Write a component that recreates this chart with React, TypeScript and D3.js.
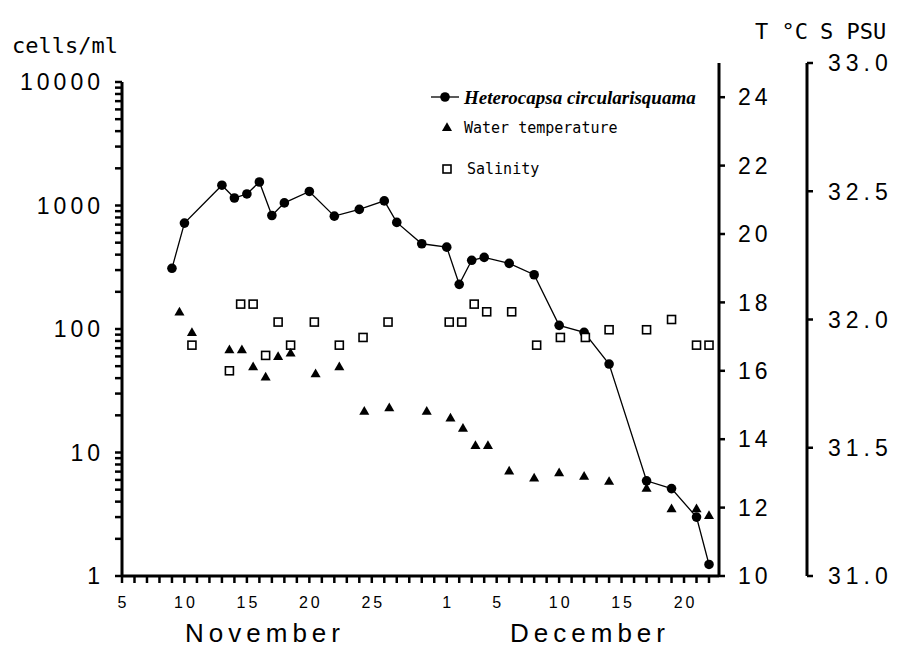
import React from 'react';
import * as d3 from 'd3';

// day numbers counted from 1 November (1 December = 31)
const cellDays = [9, 10, 13, 14, 15, 16, 17, 18, 20, 22, 24, 26, 27, 29, 31, 32, 33, 34, 36, 38, 40, 42, 44, 47, 49, 51, 52];
const cellValues = [310, 720, 1460, 1150, 1240, 1550, 830, 1050, 1300, 820, 930, 1090, 730, 490, 460, 230, 360, 380, 340, 275, 107, 94, 52, 5.9, 5.1, 3.0, 1.24];

const tempDays = [9.6, 10.6, 13.6, 14.6, 15.5, 16.5, 17.5, 18.5, 20.5, 22.4, 24.4, 26.4, 29.4, 31.3, 32.3, 33.3, 34.3, 36, 38, 40, 42, 44, 47, 49, 51, 52];
const tempValues = [17.7, 17.1, 16.6, 16.6, 16.1, 15.8, 16.4, 16.5, 15.9, 16.1, 14.8, 14.9, 14.8, 14.6, 14.3, 13.8, 13.8, 13.05, 12.85, 13.0, 12.9, 12.75, 12.55, 11.95, 11.95, 11.75];

const salDays = [10.6, 13.6, 14.5, 15.5, 16.5, 17.5, 18.5, 20.4, 22.4, 24.3, 26.3, 31.2, 32.2, 33.2, 34.2, 36.2, 38.2, 40.1, 42.1, 44, 47, 49, 51, 52];
const salValues = [31.9, 31.8, 32.06, 32.06, 31.86, 31.99, 31.9, 31.99, 31.9, 31.93, 31.99, 31.99, 31.99, 32.06, 32.03, 32.03, 31.9, 31.93, 31.93, 31.96, 31.96, 32.0, 31.9, 31.9];

const dayTicks = d3.range(5, 53);
const dayLabels: [number, string][] = [[5, '5'], [10, '10'], [15, '15'], [20, '20'], [25, '25'], [31, '1'], [35, '5'], [40, '10'], [45, '15'], [50, '20']];
const cellLabels = [1, 10, 100, 1000, 10000];
const tempTicks = [10, 12, 14, 16, 18, 20, 22, 24];
const salTicks = [31, 31.5, 32, 32.5, 33];

const sans = '"Liberation Sans", Arial, sans-serif';
const mono = '"DejaVu Sans Mono", monospace';

export default function App() {
  const left = 122, right = 719, bottom = 576;
  const x = d3.scaleLinear().domain([5, 52.8]).range([left, right]);
  const yCells = d3.scaleLog().domain([1, 10000]).range([bottom, 82]);
  const yTemp = d3.scaleLinear().domain([10, 25]).range([bottom, 63]);
  const ySal = d3.scaleLinear().domain([31, 33]).range([bottom, 63]);
  const salX = 807;

  const cells = cellDays.map((d, i) => ({ day: d, v: cellValues[i] }));
  const temps = tempDays.map((d, i) => ({ day: d, v: tempValues[i] }));
  const sals = salDays.map((d, i) => ({ day: d, v: salValues[i] }));

  const line = d3.line<{ day: number; v: number }>()
    .x(d => x(d.day))
    .y(d => yCells(d.v));
  const tri = d3.symbol(d3.symbolTriangle, 44)();

  return (
    <svg width={904} height={654} style={{ position: 'absolute', left: 0, top: 0, background: '#fff' }}>
      {/* titles */}
      <text x={12} y={53} fontFamily={mono} fontSize={22}>cells/ml</text>
      <text x={755} y={39} fontFamily={mono} fontSize={22}>T °C</text>
      <text x={820} y={39} fontFamily={mono} fontSize={22}>S PSU</text>

      {/* left log axis */}
      <line x1={left} x2={left} y1={82} y2={bottom} stroke="#000" strokeWidth={3} />
      {yCells.ticks().map(t => (
        <line key={t} x1={left - 7} x2={left} y1={yCells(t)} y2={yCells(t)} stroke="#000" strokeWidth={2.5} />
      ))}
      {cellLabels.map(t => (
        <text key={t} x={104} y={yCells(t)} dy="0.36em" textAnchor="end" fontFamily={sans} fontSize={23} style={{ letterSpacing: 4 }}>{t}</text>
      ))}

      {/* x axis */}
      <line x1={left} x2={right} y1={bottom} y2={bottom} stroke="#000" strokeWidth={3} />
      {dayTicks.map(d => (
        <line key={d} x1={x(d)} x2={x(d)} y1={bottom} y2={bottom + 7} stroke="#000" strokeWidth={2.5} />
      ))}
      {dayLabels.map(([d, s]) => (
        <text key={d} x={x(d) + 1.5} y={602} dy="0.36em" textAnchor="middle" fontFamily={sans} fontSize={16} style={{ letterSpacing: 3 }}>{s}</text>
      ))}
      <text x={265} y={642} textAnchor="middle" fontFamily={sans} fontSize={26} style={{ letterSpacing: 5 }}>November</text>
      <text x={590} y={642} textAnchor="middle" fontFamily={sans} fontSize={26} style={{ letterSpacing: 5 }}>December</text>

      {/* temperature axis */}
      <line x1={right} x2={right} y1={63} y2={bottom} stroke="#000" strokeWidth={3} />
      {tempTicks.map(t => (
        <g key={t}>
          <line x1={right} x2={right + 6} y1={yTemp(t)} y2={yTemp(t)} stroke="#000" strokeWidth={2.5} />
          <text x={738} y={yTemp(t)} dy="0.36em" fontFamily={sans} fontSize={23} style={{ letterSpacing: 4 }}>{t}</text>
        </g>
      ))}

      {/* salinity axis */}
      <line x1={salX} x2={salX} y1={63} y2={bottom} stroke="#000" strokeWidth={3} />
      {salTicks.map(t => (
        <g key={t}>
          <line x1={salX} x2={salX + 6} y1={ySal(t)} y2={ySal(t)} stroke="#000" strokeWidth={2.5} />
          <text x={828} y={ySal(t)} dy="0.36em" fontFamily={sans} fontSize={23} style={{ letterSpacing: 5 }}>{d3.format('.1f')(t)}</text>
        </g>
      ))}

      {/* Heterocapsa */}
      <path d={line(cells) ?? ''} fill="none" stroke="#000" strokeWidth={1.3} />
      {cells.map((d, i) => (
        <circle key={i} cx={x(d.day)} cy={yCells(d.v)} r={4.8} fill="#000" />
      ))}

      {/* salinity */}
      {sals.map((d, i) => (
        <rect key={i} x={x(d.day) - 4} y={ySal(d.v) - 4} width={8} height={8} fill="#fff" stroke="#000" strokeWidth={1.6} />
      ))}

      {/* temperature */}
      {temps.map((d, i) => (
        <path key={i} d={tri ?? ''} transform={`translate(${x(d.day)},${yTemp(d.v)})`} fill="#000" />
      ))}

      {/* legend */}
      <line x1={431} x2={459} y1={97} y2={97} stroke="#000" strokeWidth={1.3} />
      <circle cx={445} cy={97} r={4.8} fill="#000" />
      <text x={464} y={97} dy="0.36em" fontFamily='"Liberation Serif", serif' fontStyle="italic" fontWeight="bold" fontSize={19}>Heterocapsa circularisquama</text>
      <path d={tri ?? ''} transform="translate(447,128)" fill="#000" />
      <text x={464} y={128} dy="0.36em" fontFamily={mono} fontSize={15}>Water temperature</text>
      <rect x={443} y={165} width={8} height={8} fill="#fff" stroke="#000" strokeWidth={1.6} />
      <text x={467} y={169} dy="0.36em" fontFamily={mono} fontSize={15}>Salinity</text>
    </svg>
  );
}
